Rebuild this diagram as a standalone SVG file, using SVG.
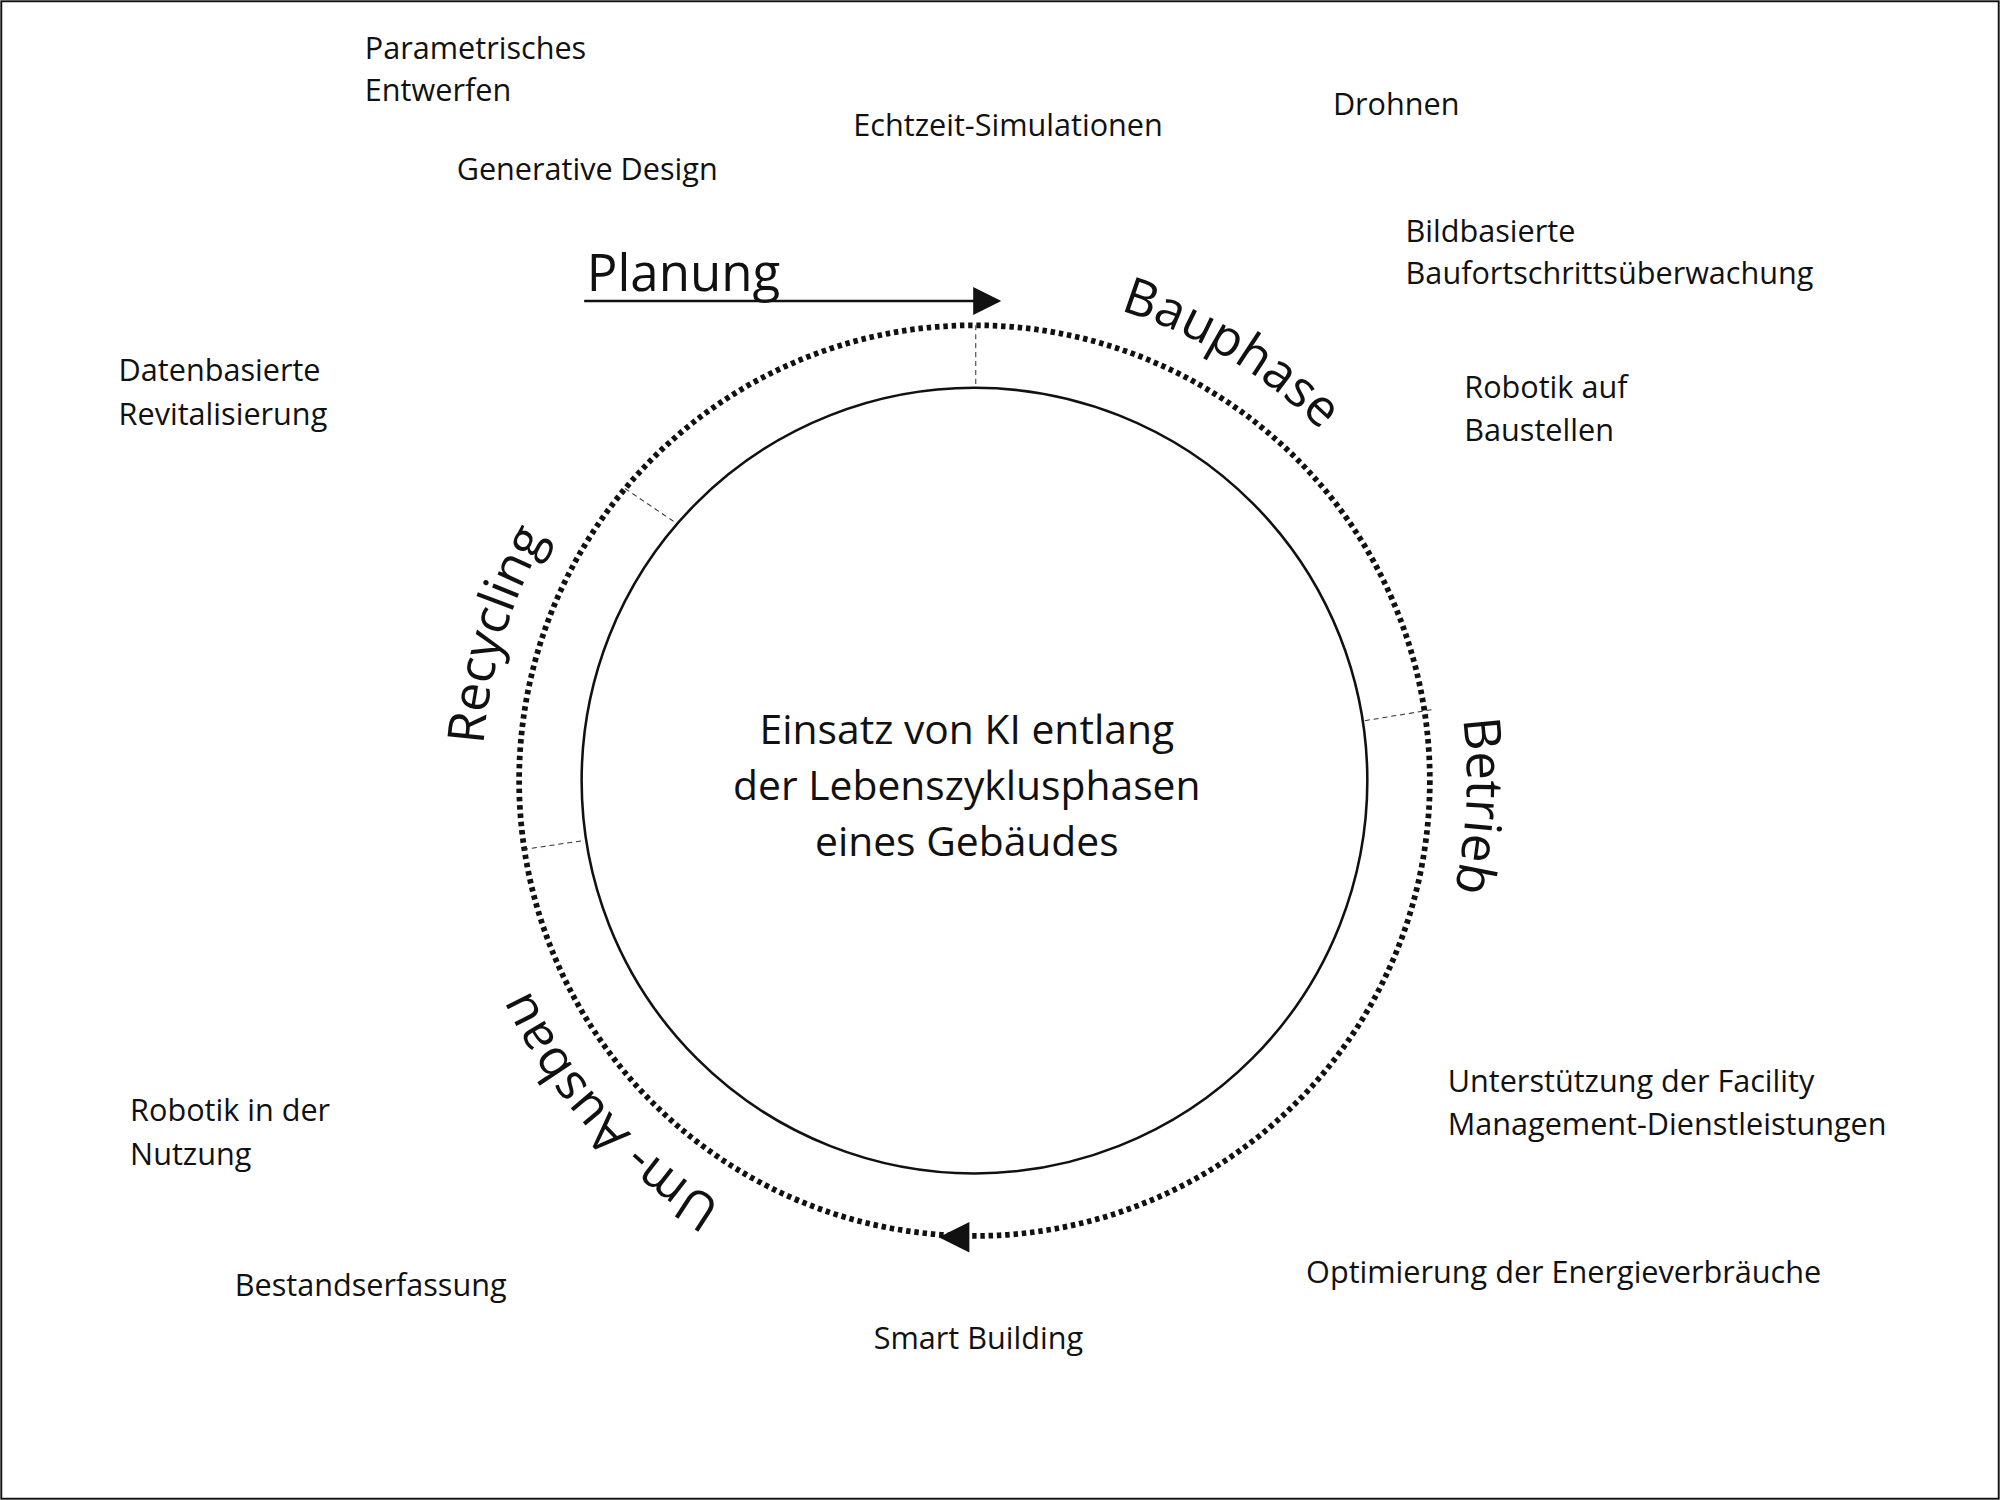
<svg xmlns="http://www.w3.org/2000/svg" width="2000" height="1500" viewBox="0 0 2000 1500">
<style>
.l{font-family:"Open Sans","DejaVu Sans",sans-serif;font-size:24px;fill:#111}
.c{font-family:"Open Sans","DejaVu Sans",sans-serif;font-size:32px;fill:#111;text-anchor:middle}
.p{font-family:"Open Sans","DejaVu Sans",sans-serif;font-size:40px;fill:#111}
.div{stroke:#333;stroke-width:0.8;stroke-dasharray:4 3}
</style>
<defs>
<path id="ring" d="M764,226 A386,386 0 1 1 764,998 A386,386 0 1 1 764,226" fill="none"/>
</defs>
<rect x="0" y="0" width="2000" height="1500" fill="#fff"/>
<g transform="scale(1.2755)">
<rect x="1" y="1" width="1566" height="1174" fill="none" stroke="#111" stroke-width="1.5"/>
<g id="connectors">
<circle cx="764" cy="612" r="357" fill="none" stroke="#111" stroke-width="4.5" stroke-dasharray="3.5 3"/>
<polygon points="736,970 760,958 760,982" fill="#111"/>
<line x1="458" y1="236" x2="783" y2="236" stroke="#111" stroke-width="2"/>
<polygon points="785,236 763,225 763,247" fill="#111"/>
<line class="div" x1="765" y1="255" x2="765" y2="304"/>
<line class="div" x1="490" y1="383" x2="530" y2="410"/>
<line class="div" x1="1070" y1="565" x2="1125" y2="556"/>
<line class="div" x1="410" y1="666" x2="458" y2="659"/>
</g>
<g id="center">
<circle cx="764" cy="612" r="308" fill="none" stroke="#111" stroke-width="2"/>
<text class="c" x="758" y="583">Einsatz von KI entlang</text>
<text class="c" x="758" y="627">der Lebenszyklusphasen</text>
<text class="c" x="758" y="671">eines Gebäudes</text>
</g>
<g id="phases">
<text class="p" x="460" y="228">Planung</text>
<text class="p" text-anchor="middle"><textPath href="#ring" startOffset="8.6%">Bauphase</textPath></text>
<text class="p" text-anchor="middle"><textPath href="#ring" startOffset="25.8%">Betrieb</textPath></text>
<text class="p" text-anchor="middle"><textPath href="#ring" startOffset="63.3%">Um- Ausbau</textPath></text>
<text class="p" text-anchor="middle"><textPath href="#ring" startOffset="79.7%">Recycling</textPath></text>
</g>
<g id="labels">
<text class="l" x="286" y="46">Parametrisches</text><text class="l" x="286" y="79">Entwerfen</text>
<text class="l" x="358" y="141">Generative Design</text>
<text class="l" x="669" y="107">Echtzeit-Simulationen</text>
<text class="l" x="1045" y="90">Drohnen</text>
<text class="l" x="1102" y="190">Bildbasierte</text><text class="l" x="1102" y="223">Baufortschrittsüberwachung</text>
<text class="l" x="1148" y="312">Robotik auf</text><text class="l" x="1148" y="346">Baustellen</text>
<text class="l" x="93" y="299">Datenbasierte</text><text class="l" x="93" y="333">Revitalisierung</text>
<text class="l" x="1135" y="856">Unterstützung der Facility</text><text class="l" x="1135" y="890">Management-Dienstleistungen</text>
<text class="l" x="1024" y="1006">Optimierung der Energieverbräuche</text>
<text class="l" x="685" y="1058">Smart Building</text>
<text class="l" x="184" y="1016">Bestandserfassung</text>
<text class="l" x="102" y="879">Robotik in der</text><text class="l" x="102" y="913">Nutzung</text>
</g>
</g>
</svg>
